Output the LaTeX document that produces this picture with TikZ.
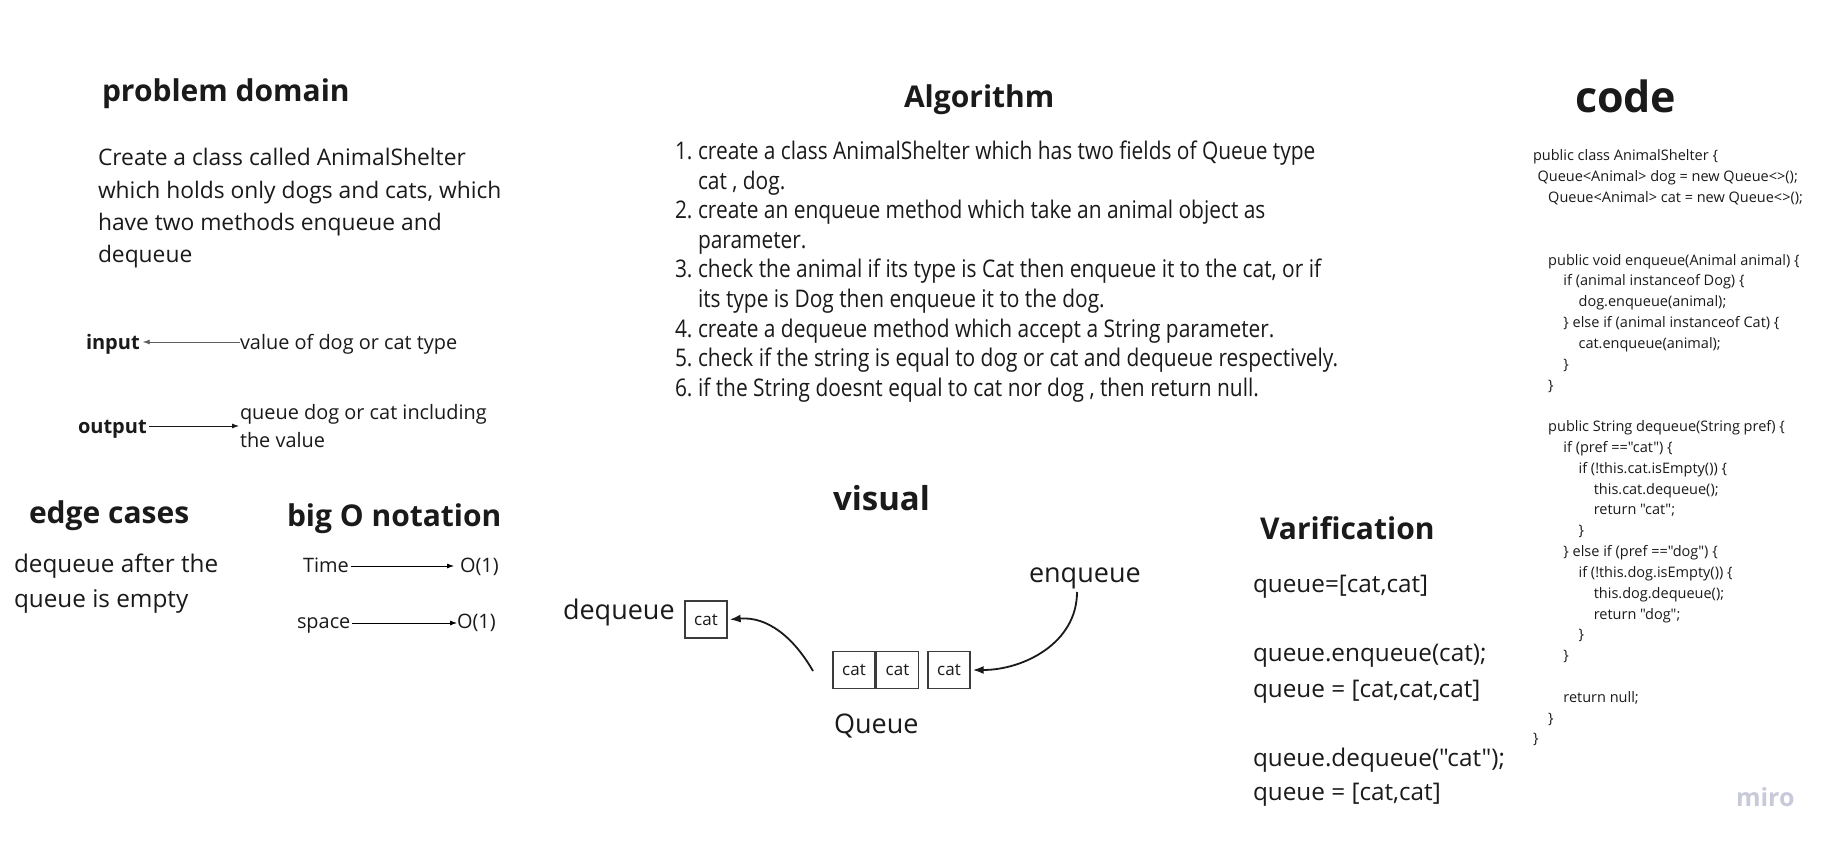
\documentclass[tikz,border=0pt]{standalone}
\usepackage{fontspec}
\setmainfont{Open Sans}
\newfontfamily\osans{Open Sans}
\newfontfamily\condfont[FakeStretch=0.86]{Open Sans}
\usetikzlibrary{arrows.meta}
\definecolor{ink}{HTML}{1A1A1A}
\definecolor{mirocol}{HTML}{C9CAD9}
\begin{document}
\begin{tikzpicture}[x=1pt,y=-1pt,
 txt/.style={inner sep=0pt, outer sep=0pt, anchor=base west, text=ink},
 head/.style={txt, font=\fontsize{30}{36}\selectfont\bfseries},
 body/.style={txt, font=\fontsize{22.8}{30}\selectfont},
 ebody/.style={txt, font=\fontsize{24.3}{30}\selectfont},
 small/.style={txt, font=\fontsize{19.9}{26}\selectfont},
 lbl/.style={txt, font=\fontsize{20}{24}\selectfont\bfseries},
 alg/.style={txt, font=\fontsize{24.3}{28}\condfont},
 codeln/.style={txt, font=\fontsize{14.5}{18}\osans},
 big/.style={txt, font=\fontsize{27}{32}\selectfont},
 ver/.style={txt, font=\fontsize{24.3}{30}\osans},
 cell/.style={draw=ink!85, line width=1.3pt, minimum width=42pt, minimum height=37pt, inner sep=0pt, font=\fontsize{17}{20}\selectfont, text=ink},
 thinarr/.style={-{Latex[length=7pt,width=5pt]}, line width=0.8pt},
 curvarr/.style={-{Latex[length=11pt,width=8pt]}, line width=1.8pt, draw=ink},
]
\useasboundingbox[fill=white] (0,0) rectangle (1836,850);

% problem domain
\node[head] (pd) at (102,102) {problem domain};
\node[body] (p1) at (98,166) {Create a class called AnimalShelter};
\node[body] (p2) at (98,199) {which holds only dogs and cats, which};
\node[body] (p3) at (98,231) {have two methods enqueue and};
\node[body] (p4) at (98,263) {dequeue};

% input / output
\node[lbl] (inp) at (86,349) {input};
\node[small] (val) at (240,349) {value of dog or cat type};
\coordinate (ia) at ([yshift=7pt]val.base west);
\draw[thinarr, draw=ink!70] (ia) -- ([xshift=3pt]ia -| inp.east);
\node[lbl] (outp) at (78,433) {output};
\node[small] (q1) at (240,419) {queue dog or cat including};
\node[small] (q2) at (240,447) {the value};
\coordinate (oa) at ([xshift=2pt,yshift=7pt]outp.base east);
\draw[thinarr, draw=ink] (oa) -- ([xshift=-1pt]oa -| q1.west);

% edge cases
\node[head] (ec) at (29,523) {edge cases};
\node[ebody] (e1) at (14,572) {dequeue after the};
\node[ebody] (e2) at (14,607) {queue is empty};

% big O
\node[head] (bo) at (287,526) {big O notation};
\node[small] (tm) at (303,572) {Time};
\node[small] (o1) at (460,572) {O(1)};
\coordinate (ta) at ([xshift=2pt,yshift=6pt]tm.base east);
\draw[thinarr] (ta) -- ([xshift=-6pt]ta -| o1.west);
\node[small] (sp) at (297,628) {space};
\node[small] (o2) at (457,628) {O(1)};
\coordinate (sa) at ([xshift=2pt,yshift=5pt]sp.base east);
\draw[thinarr] (sa) -- ([xshift=0pt]sa -| o2.west);

% Algorithm
\node[head] (al) at (904,108) {Algorithm};
\node[alg] (n1) at (675,160) {1.};
\node[alg] (a1) at (698,160) {create a class AnimalShelter which has two fields of Queue type};
\node[alg] (a1b) at (698,189.5) {cat , dog.};
\node[alg] (n2) at (675,219) {2.};
\node[alg] (a2) at (698,219) {create an enqueue method which take an animal object as};
\node[alg] (a2b) at (698,248.5) {parameter.};
\node[alg] (n3) at (675,278) {3.};
\node[alg] (a3) at (698,278) {check the animal if its type is Cat then enqueue it to the cat, or if};
\node[alg] (a3b) at (698,307.5) {its type is Dog then enqueue it to the dog.};
\node[alg] (n4) at (675,337) {4.};
\node[alg] (a4) at (698,337) {create a dequeue method which accept a String parameter.};
\node[alg] (n5) at (675,366.5) {5.};
\node[alg] (a5) at (698,366.5) {check if the string is equal to dog or cat and dequeue respectively.};
\node[alg] (n6) at (675,396) {6.};
\node[alg] (a6) at (698,396) {if the String doesnt equal to cat nor dog , then return null.};

% code
\node[txt, font=\fontsize{43}{50}\selectfont\bfseries] (cd) at (1575,113) {code};
\foreach \k/\ind/\t [count=\i] in {
 0/0/{public class AnimalShelter \{},
 1/0.3/{Queue<Animal> dog = new Queue<>();},
 2/1/{Queue<Animal> cat = new Queue<>();},
 5/1/{public void enqueue(Animal animal) \{},
 6/2/{if (animal instanceof Dog) \{},
 7/3/{dog.enqueue(animal);},
 8/2/{\} else if (animal instanceof Cat) \{},
 9/3/{cat.enqueue(animal);},
 10/2/{\}},
 11/1/{\}},
 13/1/{public String dequeue(String pref) \{},
 14/2/{if (pref =="cat") \{},
 15/3/{if (!this.cat.isEmpty()) \{},
 16/4/{this.cat.dequeue();},
 17/4/{return "cat";},
 18/3/{\}},
 19/2/{\} else if (pref =="dog") \{},
 20/3/{if (!this.dog.isEmpty()) \{},
 21/4/{this.dog.dequeue();},
 22/4/{return "dog";},
 23/3/{\}},
 24/2/{\}},
 26/2/{return null;},
 27/1/{\}},
 28/0/{\}}}
 \node[codeln] (code\i) at ({1533+15.2*\ind},{161+20.82*\k}) {\t};

% visual
\node[head, font=\fontsize{33}{40}\selectfont\bfseries] (vis) at (833,510) {visual};
\node[big] (deq) at (563,619) {dequeue};
\node[cell] (dc) at (706,619.5) {cat};
\node[cell] (c1) at (854,670) {cat};
\node[cell] (c2) at (897.5,670) {cat};
\node[cell] (c3) at (949,670) {cat};
\node[big] (qq) at (834,733) {Queue};
\node[big] (enq) at (1029,582) {enqueue};
\coordinate (es) at (1077,592);
\coordinate (ds) at (813,671);
\draw[curvarr] (es) to[out=-90,in=0] ([xshift=2pt]c3.east);
\draw[curvarr] (ds) to[out=120,in=5] ([xshift=2pt]dc.east);

% Varification
\node[head] (vf) at (1260,539) {Varification};
\node[ver] (v1) at (1253,592) {queue=[cat,cat]};
\node[ver] (v2) at (1253,661) {queue.enqueue(cat);};
\node[ver] (v3) at (1253,697) {queue = [cat,cat,cat]};
\node[ver] (v4) at (1253,766) {queue.dequeue("cat");};
\node[ver] (v5) at (1253,800) {queue = [cat,cat]};

% watermark
\node[txt, text=mirocol, font=\fontsize{25}{30}\selectfont\bfseries] (miro) at (1736,806) {miro};
\end{tikzpicture}
\end{document}
